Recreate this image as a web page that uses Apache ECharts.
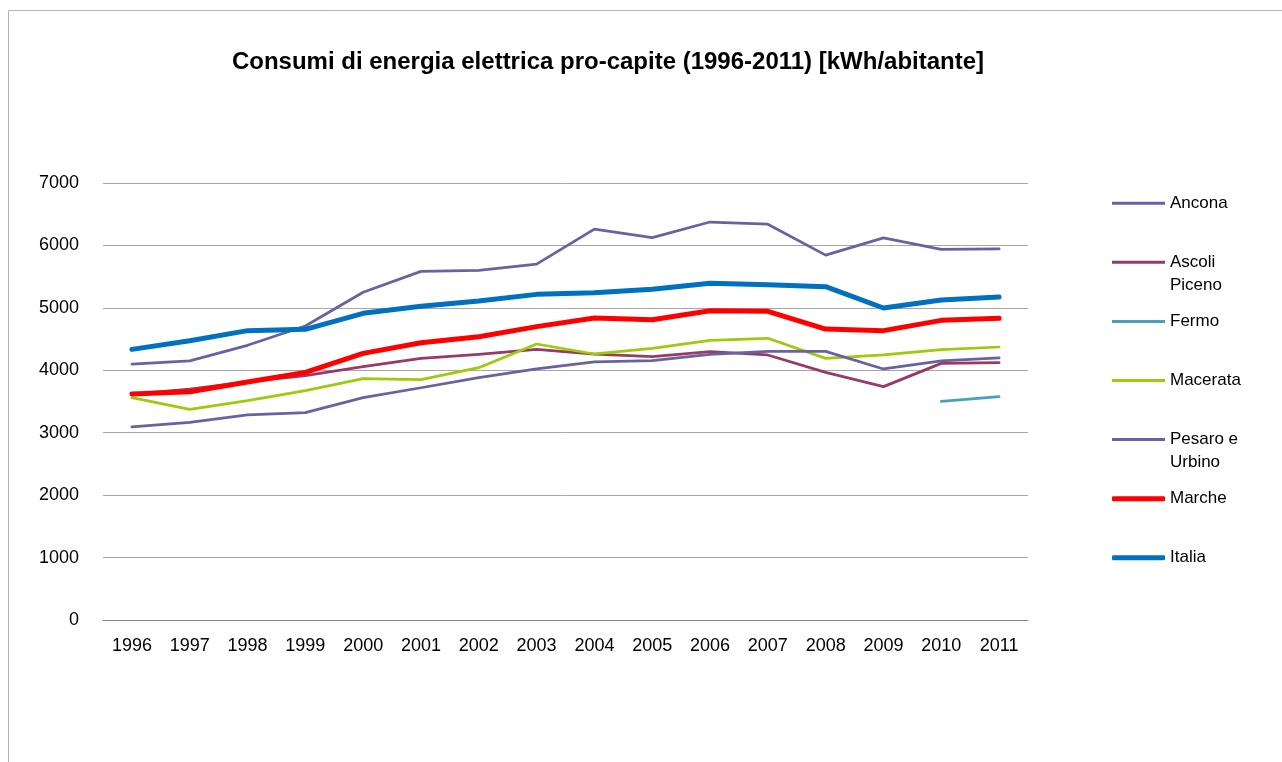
<!DOCTYPE html>
<html>
<head>
<meta charset="utf-8">
<title>Consumi di energia elettrica pro-capite</title>
<script src="https://cdn.jsdelivr.net/npm/echarts@6/dist/echarts.min.js"></script>
<style>
  html, body { margin: 0; padding: 0; background: #fff; }
  #chart { width: 1282px; height: 762px; }
</style>
</head>
<body>
<div id="chart"></div>
<script>
// dati
var years = ['1996', '1997', '1998', '1999', '2000', '2001', '2002', '2003',
  '2004', '2005', '2006', '2007', '2008', '2009', '2010', '2011'];
var yTicks = [0, 1000, 2000, 3000, 4000, 5000, 6000, 7000];

var ancona = [4100, 4150, 4400, 4710, 5250, 5585, 5600, 5700, 6260, 6125, 6375, 6340, 5845, 6120, 5937, 5943];
var ascoliPiceno = [3620, 3700, 3815, 3915, 4058, 4190, 4255, 4335, 4260, 4218, 4298, 4245, 3967, 3738, 4111, 4122];
var fermo = [null, null, null, null, null, null, null, null, null, null, null, null, null, null, 3503, 3577];
var macerata = [3561, 3375, 3513, 3673, 3866, 3850, 4042, 4421, 4261, 4352, 4480, 4512, 4191, 4245, 4330, 4373];
var pesaroUrbino = [3092, 3166, 3284, 3321, 3561, 3720, 3882, 4021, 4133, 4154, 4255, 4303, 4303, 4021, 4149, 4197];
var marche = [3620, 3655, 3812, 3967, 4271, 4442, 4538, 4699, 4837, 4811, 4955, 4944, 4661, 4635, 4800, 4832];
var italia = [4335, 4474, 4635, 4656, 4912, 5025, 5110, 5216, 5243, 5297, 5393, 5371, 5339, 4998, 5126, 5174];

var seriesNames = ['Ancona', 'Ascoli Piceno', 'Fermo', 'Macerata', 'Pesaro e Urbino', 'Marche', 'Italia'];
var seriesData = [ancona, ascoliPiceno, fermo, macerata, pesaroUrbino, marche, italia];

var colors = ['#6a62a0', '#993a64', '#4aa0b8', '#9bcb0b', '#6a62a0', '#ff0000', '#0070c0'];
var thick = [false, false, false, false, false, true, true];

var myChart = echarts.init(document.getElementById('chart'));

// una legenda per voce, come in Excel (passo fisso)
var legends = seriesNames.map(function (name, i) {
  var twoLines = name.length > 10;
  var iconY = 203.3 + 59.07 * i;
  return {
    orient: 'vertical',
    left: 1112,
    top: iconY - (twoLines ? 34.5 : 11.5),
    padding: 0,
    selectedMode: false,
    icon: thick[i] ? 'roundRect' : 'rect',
    itemWidth: 53,
    itemHeight: thick[i] ? 5 : 3,
    data: [name],
    formatter: function (n) {
      // riga vuota sopra: la prima riga resta all'altezza della linea
      return twoLines ? ' \n' + n.replace(/ (\S+)$/, '\n$1') : n;
    },
    textStyle: {
      fontFamily: 'Liberation Sans',
      fontSize: 17,
      lineHeight: 23,
      color: '#000'
    }
  };
});

myChart.setOption({
  animation: false,
  backgroundColor: '#fff',
  title: {
    text: 'Consumi di energia elettrica pro-capite (1996-2011) [kWh/abitante]',
    left: 603,
    textAlign: 'center',
    top: 45,
    textStyle: {
      fontFamily: 'Liberation Sans',
      fontWeight: 'bold',
      fontSize: 24,
      color: '#000'
    }
  },
  legend: legends,
  graphic: [{
    // cornice del grafico
    type: 'rect',
    shape: { x: 8.5, y: 10.5, width: 1300, height: 800 },
    style: { fill: null, stroke: '#b3b3b3', lineWidth: 1 },
    silent: true
  }],
  grid: { // margini
    left: 103,
    right: 254,
    top: 183,
    bottom: 142
  },
  xAxis: {
    type: 'category',
    data: years,
    boundaryGap: true,
    axisLine: { lineStyle: { color: '#868686', width: 1 } },
    axisTick: { show: false },
    axisLabel: {
      margin: 17,
      fontFamily: 'Liberation Sans',
      fontSize: 18,
      color: '#000'
    }
  },
  yAxis: {
    type: 'value',
    min: yTicks[0],
    max: yTicks[yTicks.length - 1],
    interval: 1000,
    axisLine: { show: false },
    axisTick: { show: false },
    axisLabel: {
      margin: 24,
      fontFamily: 'Liberation Sans',
      fontSize: 18,
      color: '#000',
      formatter: function (v) { return String(v); }
    },
    splitLine: { lineStyle: { color: '#a6a6a6', width: 1 } }
  },
  series: seriesNames.map(function (name, i) {
    return {
      name: name,
      type: 'line',
      data: seriesData[i],
      symbol: 'none',
      smooth: false,
      connectNulls: false,
      color: colors[i],
      lineStyle: { width: thick[i] ? 5 : 2.75, color: colors[i], cap: 'round', join: 'round' },
      z: 2 + i
    };
  })
});
</script>
</body>
</html>
